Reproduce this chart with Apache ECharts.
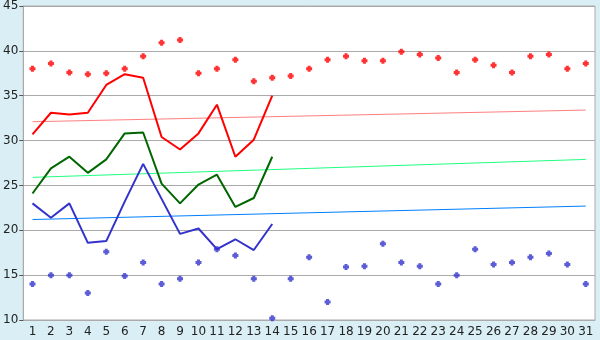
<!DOCTYPE html>
<html><head><meta charset="utf-8">
<script src="https://cdn.jsdelivr.net/npm/echarts@6/dist/echarts.min.js"></script>
<style>html,body{margin:0;padding:0;background:#daeff5}#c{width:600px;height:340px}</style>
</head><body><div id="c"></div>
<script>
var days = ['1','2','3','4','5','6','7','8','9','10','11','12','13','14','15','16','17','18','19','20','21','22','23','24','25','26','27','28','29','30','31'];
var yTicks = {min: 10, max: 45, step: 5};
var maxDots = [38.0,38.6,37.6,37.4,37.5,38.0,39.4,40.9,41.2,37.5,38.0,39.0,36.6,37.0,37.2,38.0,39.0,39.4,38.9,38.9,39.9,39.6,39.2,37.6,39.0,38.4,37.6,39.4,39.6,38.0,38.6];
var minDots = [14.0,15.0,15.0,13.0,17.6,14.9,16.4,14.0,14.6,16.4,17.9,17.2,14.6,10.2,14.6,17.0,12.0,15.9,16.0,18.5,16.4,16.0,14.0,15.0,17.9,16.2,16.4,17.0,17.4,16.2,14.0];
var maxLine = [30.7,33.1,32.9,33.1,36.2,37.4,37.0,30.4,29.0,30.8,34.0,28.2,30.1,35.0];
var meanLine = [24.1,26.9,28.2,26.4,27.9,30.8,30.9,25.2,23.0,25.1,26.2,22.6,23.6,28.2];
var minLine = [23.0,21.4,23.0,18.6,18.8,23.2,27.4,23.5,19.6,20.2,17.9,19.0,17.8,20.7];
var maxTrend = [['1',32.1],['31',33.4]];
var meanTrend = [['1',25.9],['31',27.9]];
var minTrend = [['1',21.2],['31',22.7]];

var dot = 'path://M1,0H3V1H4V3H3V4H1V3H0V1H1Z';
var chart = echarts.init(document.getElementById('c'));
chart.setOption({
  animation: false,
  backgroundColor: '#daeff5',
  textStyle: {fontFamily: 'DejaVu Sans'},
  grid: {left: 21, right: 5, top: 5, bottom: 20, show: true, backgroundColor: '#ffffff', borderColor: '#aaaaaa', borderWidth: 1},
  xAxis: {
    type: 'category', data: days, boundaryGap: true,
    axisLine: {lineStyle: {color: '#aaaaaa', width: 1}},
    axisTick: {alignWithLabel: true, length: 5, lineStyle: {color: '#555555'}},
    axisLabel: {color: '#222222', fontSize: 12, margin: 6, interval: 0, fontFamily: 'DejaVu Sans'},
    splitLine: {show: false}
  },
  yAxis: {
    type: 'value', min: yTicks.min, max: yTicks.max, interval: yTicks.step,
    axisLine: {show: true, lineStyle: {color: '#aaaaaa', width: 1}},
    axisTick: {show: true, length: 4, lineStyle: {color: '#555555'}},
    axisLabel: {color: '#222222', fontSize: 12, margin: 5, fontFamily: 'DejaVu Sans'},
    splitLine: {show: true, lineStyle: {color: '#aaaaaa', width: 1}}
  },
  series: [
    {type: 'line', data: maxTrend, symbol: 'none', lineStyle: {color: '#ff8080', width: 1}, z: 1},
    {type: 'line', data: meanTrend, symbol: 'none', lineStyle: {color: '#20ff80', width: 1}, z: 1},
    {type: 'line', data: minTrend, symbol: 'none', lineStyle: {color: '#0080ff', width: 1}, z: 1},
    {type: 'line', data: maxLine, symbol: 'none', lineStyle: {color: '#ff0000', width: 2}, z: 2},
    {type: 'line', data: meanLine, symbol: 'none', lineStyle: {color: '#006600', width: 2}, z: 2},
    {type: 'line', data: minLine, symbol: 'none', lineStyle: {color: '#3333cc', width: 2}, z: 2},
    {type: 'scatter', data: maxDots, symbol: dot, symbolSize: 6, itemStyle: {color: '#ff0000'}, z: 3},
    {type: 'scatter', data: minDots, symbol: dot, symbolSize: 6, itemStyle: {color: '#3333cc'}, z: 3}
  ]
});
</script></body></html>
